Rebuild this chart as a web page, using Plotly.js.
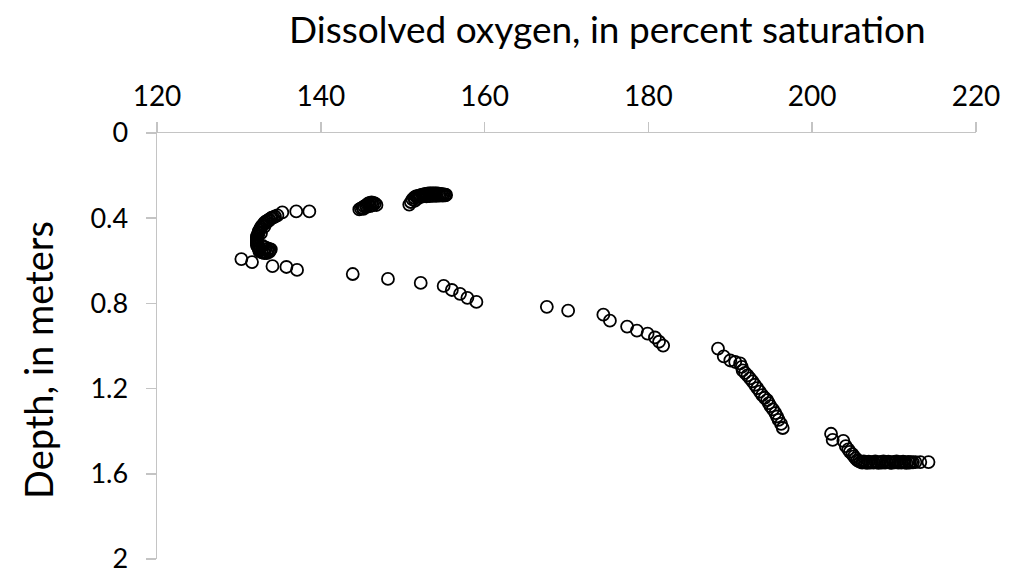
<!DOCTYPE html>
<html>
<head>
<meta charset="utf-8">
<script src="https://cdn.plot.ly/plotly-3.0.1.min.js"></script>
<style>
  html, body { margin: 0; padding: 0; background: #fff; }
  #chart { width: 1013px; height: 576px; }
</style>
</head>
<body>
<div id="chart"></div>
<script>
// Dissolved oxygen (percent saturation) against depth (meters), one profile.
const oxygenPct = [
  // near-surface readings
  138.6, 137.0, 135.3,
  134.7, 134.4, 134.2, 133.9, 133.7, 133.5, 133.3, 133.1, 133.0, 132.8,
  132.7, 132.6, 132.5, 132.4, 132.4, 132.3, 132.2, 132.2, 132.2, 132.2,
  132.2, 132.2, 132.2, 132.3, 132.4, 132.5, 132.5, 132.8, 133.1, 133.4,
  133.7, 133.8, 133.6, 133.2, 133.0, 133.5, 133.9, 133.3, 132.9, 132.7,
  133.1, 133.4, 134.0, 133.7,
  130.3, 131.6, 134.1, 135.8, 137.1,
  144.7, 144.9, 145.1, 145.3, 145.5, 145.7, 145.8, 146.0, 146.2, 146.4,
  146.6, 146.8, 146.3, 146.0, 145.6, 145.2,
  150.8, 151.0, 151.2, 151.4, 151.6, 151.8, 152.0, 152.2, 152.4, 152.6,
  152.8, 153.0, 153.2, 153.4, 153.6, 153.8, 154.0, 154.2, 154.4, 154.6,
  154.8, 155.0, 155.2, 155.3, 152.1, 152.5, 152.9, 153.3, 153.7, 154.1,
  154.5, 154.9, 155.2, 151.9, 151.5,
  // mid-depth readings
  143.9, 148.2, 152.2, 155.0, 156.0, 157.0, 157.9, 159.0,
  167.6, 170.2, 174.5, 175.3, 177.4, 178.6, 179.9, 180.8, 181.3, 181.8,
  188.5, 189.2, 190.0, 190.6, 191.2, 191.4, 191.5, 191.8, 192.1, 192.4,
  192.7, 193.0, 193.3, 193.6, 193.9, 194.2, 194.5, 194.7, 194.9, 195.2,
  195.5, 195.7, 195.9, 196.2, 196.4,
  // bottom readings
  202.3, 202.5, 203.8, 204.1, 204.4, 204.6, 204.9, 205.1, 205.3, 205.5,
  205.7, 205.9, 206.1, 206.3, 206.5, 206.7, 206.9, 207.1, 207.3, 207.5,
  207.7, 207.9, 208.1, 208.3, 208.5, 208.7, 208.9, 209.1, 209.3, 209.5,
  209.7, 209.9, 210.1, 210.3, 210.5, 210.7, 210.9, 211.1, 211.3, 211.5,
  211.7, 211.9, 212.1, 212.3, 212.6, 213.2, 214.2
];

const depthM = [
  0.368, 0.368, 0.373,
  0.387, 0.392, 0.396, 0.401, 0.406, 0.411, 0.415, 0.422, 0.429, 0.436,
  0.443, 0.450, 0.457, 0.464, 0.471, 0.478, 0.485, 0.492, 0.499, 0.506,
  0.513, 0.520, 0.527, 0.534, 0.541, 0.548, 0.555, 0.560, 0.564, 0.564,
  0.558, 0.550, 0.543, 0.548, 0.556, 0.553, 0.546, 0.538, 0.530, 0.470,
  0.440, 0.420, 0.398, 0.410,
  0.592, 0.606, 0.625, 0.629, 0.643,
  0.359, 0.354, 0.350, 0.345, 0.340, 0.336, 0.331, 0.328, 0.326, 0.328,
  0.331, 0.338, 0.340, 0.343, 0.347, 0.356,
  0.336, 0.324, 0.312, 0.304, 0.298, 0.296, 0.294, 0.292, 0.290, 0.288,
  0.286, 0.285, 0.284, 0.284, 0.283, 0.283, 0.284, 0.284, 0.285, 0.286,
  0.287, 0.288, 0.289, 0.291, 0.300, 0.298, 0.297, 0.296, 0.295, 0.295,
  0.294, 0.294, 0.293, 0.306, 0.318,
  0.662, 0.685, 0.704, 0.718, 0.737, 0.755, 0.774, 0.793,
  0.816, 0.834, 0.853, 0.881, 0.909, 0.928, 0.942, 0.960, 0.980, 0.998,
  1.012, 1.049, 1.068, 1.075, 1.082, 1.098, 1.114, 1.126, 1.138, 1.152,
  1.166, 1.182, 1.198, 1.214, 1.231, 1.243, 1.254, 1.268, 1.282, 1.298,
  1.315, 1.331, 1.347, 1.366, 1.385,
  1.412, 1.441, 1.445, 1.470, 1.485, 1.497, 1.508, 1.518, 1.528, 1.536,
  1.540, 1.544, 1.547, 1.542, 1.546, 1.549, 1.543, 1.547, 1.545, 1.548,
  1.542, 1.546, 1.549, 1.544, 1.547, 1.542, 1.548, 1.545, 1.543, 1.547,
  1.549, 1.544, 1.546, 1.542, 1.548, 1.545, 1.547, 1.543, 1.546, 1.549,
  1.544, 1.547, 1.545, 1.546, 1.545, 1.545, 1.545
];

const xTitle = 'Dissolved oxygen, in percent saturation';
const yTitle = 'Depth, in meters';

const FONT = 'Lato, "Open Sans", sans-serif';
const AXIS_GREY = '#c4c4c4';

const trace = {
  type: 'scatter',
  mode: 'markers',
  x: oxygenPct,
  y: depthM,
  marker: {
    symbol: 'circle-open',
    size: 12,
    color: '#000',
    line: { color: '#000', width: 1.8 }
  },
  hoverinfo: 'x+y'
};

const layout = {
  width: 1013,
  height: 576,
  margin: { l: 157, r: 37, t: 133, b: 17 },
  paper_bgcolor: '#fff',
  plot_bgcolor: '#fff',
  showlegend: false,
  font: { family: FONT, color: '#000' },
  xaxis: {
    side: 'top',
    range: [120, 220],
    tick0: 120,
    dtick: 20,
    ticks: 'outside',
    ticklen: 10,
    tickwidth: 1.5,
    tickcolor: AXIS_GREY,
    showline: true,
    linecolor: AXIS_GREY,
    linewidth: 1.5,
    showgrid: false,
    zeroline: false,
    tickfont: { family: FONT, size: 28, color: '#000' },
    ticklabelstandoff: 4,
    ticklabeloverflow: 'allow'
  },
  yaxis: {
    range: [2, 0],
    tick0: 0,
    dtick: 0.4,
    ticks: 'outside',
    ticklen: 10,
    tickwidth: 1.5,
    tickcolor: AXIS_GREY,
    showline: true,
    linecolor: AXIS_GREY,
    linewidth: 1.5,
    showgrid: false,
    zeroline: false,
    tickfont: { family: FONT, size: 27, color: '#000' },
    ticklabelstandoff: 12,
    ticklabeloverflow: 'allow'
  },
  annotations: [
    {
      text: xTitle,
      xref: 'paper', yref: 'paper',
      x: (607 - 157) / 819, y: 1 + (133 - 28) / 426,
      xanchor: 'center', yanchor: 'middle',
      showarrow: false,
      font: { family: FONT, size: 37, color: '#000' }
    },
    {
      text: yTitle,
      xref: 'paper', yref: 'paper',
      x: -(157 - 38) / 819, y: 1 - (360 - 133) / 426,
      xanchor: 'center', yanchor: 'middle',
      textangle: -90,
      showarrow: false,
      font: { family: FONT, size: 38, color: '#000' }
    }
  ]
};

Plotly.newPlot('chart', [trace], layout, { displayModeBar: false, staticPlot: true });
</script>
</body>
</html>
